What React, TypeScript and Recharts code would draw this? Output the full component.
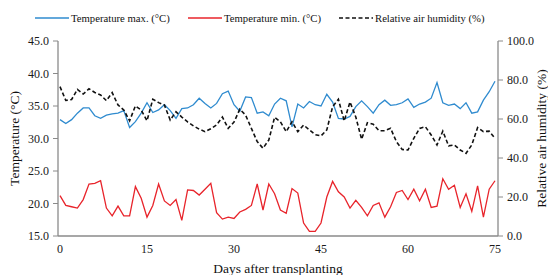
import React from 'react';
import { LineChart, Line, XAxis, YAxis, Legend, Label } from 'recharts';

const FONT = "'Liberation Serif', 'Times New Roman', serif";

const days = [
  0, 1, 2, 3, 4, 5, 6, 7, 8, 9, 10, 11, 12, 13, 14, 15, 16, 17, 18, 19,
  20, 21, 22, 23, 24, 25, 26, 27, 28, 29, 30, 31, 32, 33, 34, 35, 36, 37, 38, 39,
  40, 41, 42, 43, 44, 45, 46, 47, 48, 49, 50, 51, 52, 53, 54, 55, 56, 57, 58, 59,
  60, 61, 62, 63, 64, 65, 66, 67, 68, 69, 70, 71, 72, 73, 74, 75,
];

const tempMax = [
  32.9, 32.3, 32.9, 33.9, 34.7, 34.7, 33.5, 33.1, 33.6, 33.8,
  33.9, 34.3, 31.7, 32.6, 33.9, 35.5, 34.0, 34.4, 35.2, 34.3,
  33.1, 34.6, 34.7, 35.2, 36.2, 35.4, 34.7, 35.4, 36.9, 37.3,
  35.2, 34.2, 36.4, 36.3, 33.9, 34.1, 33.5, 35.3, 36.2, 35.8,
  31.8, 35.3, 34.7, 35.7, 35.2, 35.0, 36.8, 35.6, 33.1, 33.0,
  33.4, 34.9, 35.8, 34.9, 33.9, 35.2, 35.9, 35.1, 35.2, 35.5,
  36.1, 34.8, 35.3, 35.6, 36.2, 38.6, 35.5, 35.1, 35.3, 34.6,
  35.5, 33.9, 34.1, 35.9, 37.2, 38.8,
];

const tempMin = [
  21.2, 19.7, 19.5, 19.3, 20.6, 23.0, 23.1, 23.5, 19.3, 18.1,
  19.6, 18.1, 18.1, 22.6, 20.8, 17.9, 19.7, 23.0, 20.4, 19.7,
  20.6, 17.4, 22.1, 22.0, 21.3, 22.2, 23.1, 18.6, 17.6, 17.9,
  17.7, 18.7, 19.1, 19.7, 23.0, 19.0, 23.0, 21.5, 19.0, 18.5,
  22.3, 21.6, 17.0, 15.7, 15.7, 17.0, 21.0, 23.4, 21.8, 21.0,
  19.3, 20.5, 19.4, 18.1, 19.7, 20.1, 17.9, 19.5, 21.7, 22.0,
  20.6, 22.2, 20.4, 22.2, 19.4, 19.6, 23.8, 22.2, 22.8, 19.4,
  21.5, 18.8, 22.7, 17.9, 22.2, 23.5,
];

const humidity = [
  76.6, 69.5, 70.0, 75.2, 72.8, 75.5, 73.6, 72.3, 69.4, 73.5,
  67.2, 64.6, 59.1, 66.7, 64.6, 59.1, 70.1, 68.4, 67.2, 59.5,
  63.7, 61.0, 58.5, 56.5, 54.8, 53.5, 55.0, 57.0, 61.0, 55.2,
  58.4, 65.0, 62.0, 55.2, 48.4, 45.0, 49.2, 60.9, 58.6, 53.5,
  58.6, 53.5, 56.9, 54.4, 52.0, 51.3, 54.4, 66.3, 70.1, 59.0,
  68.7, 61.0, 49.6, 58.1, 57.3, 54.0, 54.0, 55.2, 48.4, 44.4,
  44.1, 50.1, 55.2, 56.0, 51.8, 46.7, 53.8, 46.2, 46.7, 44.1,
  42.4, 46.7, 55.6, 53.5, 53.8, 50.1,
];

const xTicks = [0, 15, 30, 45, 60, 75];
const leftTicks = [15, 20, 25, 30, 35, 40, 45];
const rightTicks = [0, 20, 40, 60, 80, 100];

const seriesNames = {
  tmax: 'Temperature max. (°C)',
  tmin: 'Temperature min. (°C)',
  rh: 'Relative air humidity (%)',
};

const COLORS = { tmax: '#2F8BCF', tmin: '#E8242B', rh: '#111111', axis: '#8A8A8A' };

const data = days.map((d, i) => ({
  day: d,
  tmax: tempMax[i],
  tmin: tempMin[i],
  rh: humidity[i],
}));

const legendItems = [
  { key: 'tmax', x: 27, dash: undefined as string | undefined },
  { key: 'tmin', x: 180, dash: undefined as string | undefined },
  { key: 'rh', x: 331, dash: '4 2.5' },
];

const LegendContent = () => (
  <div style={{ position: 'relative', width: 548, height: 33, fontFamily: FONT, fontSize: 10.7, color: '#111' }}>
    {legendItems.map((it) => (
      <div key={it.key} style={{ position: 'absolute', left: it.x, top: 4, display: 'flex', alignItems: 'center', whiteSpace: 'nowrap' }}>
        <svg width={34} height={6} style={{ marginRight: 2 }}>
          <line
            x1={0}
            y1={3}
            x2={34}
            y2={3}
            stroke={(COLORS as any)[it.key]}
            strokeWidth={it.key === 'rh' ? 1.5 : 1.3}
            strokeDasharray={it.dash}
          />
        </svg>
        <span>{(seriesNames as any)[it.key]}</span>
      </div>
    ))}
  </div>
);

const tickStyle = { fontFamily: FONT, fontSize: 12, fill: '#1a1a1a' };

export default function App() {
  return (
    <LineChart width={548} height={267} data={data} margin={{ top: 0, right: 0, bottom: 0, left: 0 }}>
      <Legend verticalAlign="top" align="left" content={<LegendContent />} wrapperStyle={{ left: 0, top: 0 }} />
      <XAxis
        dataKey="day"
        type="number"
        domain={[0, 75]}
        ticks={xTicks}
        interval={0}
        tickLine={false}
        axisLine={{ stroke: COLORS.axis, strokeWidth: 1.3 }}
        tick={tickStyle}
        height={39}
        padding={{ left: 2, right: 3 }}
      >
        <Label
          value="Days after transplanting"
          position="insideBottom"
          offset={2}
          style={{ fontFamily: FONT, fontSize: 13.5, fill: '#111', textAnchor: 'middle' }}
        />
      </XAxis>
      <YAxis
        yAxisId="left"
        domain={[15, 45]}
        ticks={leftTicks}
        interval={0}
        allowDataOverflow
        width={50}
        tickSize={5}
        tickMargin={4}
        tickFormatter={(v: number) => v.toFixed(1)}
        tick={tickStyle}
        tickLine={{ stroke: COLORS.axis }}
        axisLine={{ stroke: COLORS.axis, strokeWidth: 1.3 }}
      >
        <Label
          value="Temperature (°C)"
          angle={-90}
          position="insideLeft"
          offset={6}
          style={{ fontFamily: FONT, fontSize: 13.5, fill: '#111', textAnchor: 'middle' }}
        />
      </YAxis>
      <YAxis
        yAxisId="right"
        orientation="right"
        domain={[0, 100]}
        ticks={rightTicks}
        interval={0}
        allowDataOverflow
        width={58}
        tickSize={5}
        tickMargin={4}
        tickFormatter={(v: number) => v.toFixed(1)}
        tick={tickStyle}
        tickLine={{ stroke: COLORS.axis }}
        axisLine={{ stroke: COLORS.axis, strokeWidth: 1.3 }}
      >
        <Label
          value="Relative air humidity (%)"
          angle={-90}
          position="insideRight"
          offset={15}
          style={{ fontFamily: FONT, fontSize: 13.5, fill: '#111', textAnchor: 'middle' }}
        />
      </YAxis>
      <Line
        yAxisId="left"
        dataKey="tmax"
        name={seriesNames.tmax}
        stroke={COLORS.tmax}
        strokeWidth={1.3}
        dot={false}
        isAnimationActive={false}
        type="linear"
      />
      <Line
        yAxisId="left"
        dataKey="tmin"
        name={seriesNames.tmin}
        stroke={COLORS.tmin}
        strokeWidth={1.3}
        dot={false}
        isAnimationActive={false}
        type="linear"
      />
      <Line
        yAxisId="right"
        dataKey="rh"
        name={seriesNames.rh}
        stroke={COLORS.rh}
        strokeWidth={1.6}
        strokeDasharray="4 2.5"
        dot={false}
        isAnimationActive={false}
        type="linear"
      />
    </LineChart>
  );
}
